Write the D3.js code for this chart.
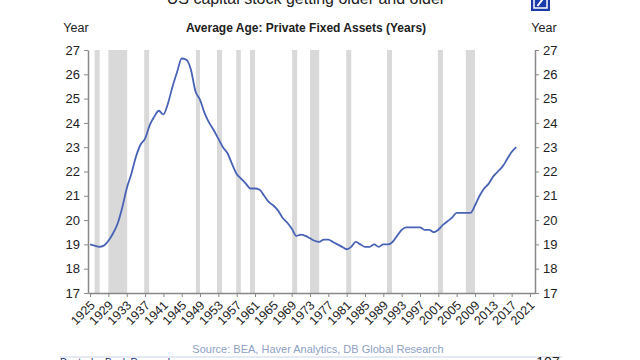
<!DOCTYPE html>
<html><head><meta charset="utf-8">
<script src="https://cdn.jsdelivr.net/npm/d3@7"></script>
<style>body{margin:0;background:#fff}svg{display:block;font-family:Arial,"Liberation Sans",sans-serif}</style>
</head><body><svg id="c" width="640" height="360"></svg>
<script>
const years = d3.range(1925, 2019);
const avgAge = [19.0,18.95,18.9,18.95,19.15,19.45,19.85,20.5,21.3,21.9,
22.6,23.1,23.35,23.9,24.25,24.5,24.35,24.8,25.5,26.1,
26.65,26.6,26.2,25.3,24.95,24.4,24.0,23.7,23.35,23.0,
22.75,22.3,21.9,21.7,21.5,21.3,21.3,21.25,21.0,20.75,
20.6,20.4,20.1,19.9,19.65,19.35,19.4,19.35,19.25,19.15,
19.1,19.2,19.2,19.1,19.0,18.9,18.8,18.9,19.1,19.0,
18.9,18.9,19.0,18.9,19.0,19.0,19.1,19.35,19.6,19.7,
19.7,19.7,19.7,19.6,19.6,19.5,19.6,19.8,19.95,20.1,
20.3,20.3,20.3,20.3,20.6,21.0,21.3,21.5,21.8,22.0,
22.2,22.5,22.8,23.0];
const recessionStart = [1926.0,1929.0,1936.8,1948.1,1952.7,1956.9,1959.9,1969.1,1973.0,1980.9,1989.8,2000.9,2007.0];
const recessionEnd   = [1927.1,1933.1,1937.9,1949.0,1953.8,1957.9,1961.0,1970.2,1975.0,1982.0,1990.9,2002.0,2009.0];
const xTicks = d3.range(1925, 2022, 4);
const yTicks = [17,18,19,20,21,22,23,24,25,26,27];

const svg = d3.select("#c");
const x = d3.scaleLinear().domain([1924.55, 2022.1]).range([88, 535]);
const y = d3.scaleLinear().domain([17, 27]).range([293, 50]);

// top title (clipped at top edge as in the reference)
svg.append("text").attr("x", 306).attr("y", 4).attr("text-anchor", "middle")
  .attr("font-size", 16).attr("fill", "#222").text("US capital stock getting older and older");
// logo
svg.append("rect").attr("x", 531).attr("y", -8).attr("width", 19).attr("height", 19).attr("fill", "#1c3aa8");
svg.append("rect").attr("x", 534).attr("y", -5).attr("width", 13).attr("height", 13).attr("fill", "none").attr("stroke", "#fff").attr("stroke-width", 1.5);
svg.append("line").attr("x1", 537.5).attr("y1", 6).attr("x2", 543.5).attr("y2", -2).attr("stroke", "#fff").attr("stroke-width", 2);

// recession bars
svg.append("g").selectAll("rect").data(recessionStart).join("rect")
  .attr("x", (d) => x(d)).attr("width", (d, i) => x(recessionEnd[i]) - x(d))
  .attr("y", y(27)).attr("height", y(17) - y(27)).attr("fill", "#d9d9d9");

// line
const line = d3.line().x((d, i) => x(years[i])).y((d) => y(d)).curve(d3.curveMonotoneX);
svg.append("path").datum(avgAge).attr("d", line).attr("fill", "none")
  .attr("stroke", "#4862b6").attr("stroke-width", 1.8);

// axes
const axCol = "#888";
const gl = svg.append("g").attr("transform", "translate(88,0)")
  .call(d3.axisLeft(y).tickValues(yTicks).tickSize(4).tickPadding(4).tickSizeOuter(0));
const gr = svg.append("g").attr("transform", "translate(535,0)")
  .call(d3.axisRight(y).tickValues(yTicks).tickSize(4).tickPadding(4).tickSizeOuter(0));
const gb = svg.append("g").attr("transform", "translate(0,293)")
  .call(d3.axisBottom(x).tickValues(xTicks).tickFormat(d3.format("d")).tickSize(4).tickSizeOuter(0));
[gl, gr, gb].forEach((g) => {
  g.select(".domain").attr("stroke", axCol).attr("stroke-width", 1.5);
  g.selectAll(".tick line").attr("stroke", axCol);
  g.selectAll("text").attr("fill", "#222").attr("font-family", "Arial,'Liberation Sans',sans-serif");
});
gl.selectAll("text").attr("font-size", 13);
gr.selectAll("text").attr("font-size", 13);
gb.selectAll("text").attr("font-size", 12.5).attr("text-anchor", "end")
  .attr("dx", "0").attr("dy", "0").attr("y", 0).attr("transform", "translate(5,13) rotate(-45)");

// headers
svg.append("text").attr("x", 76).attr("y", 32).attr("text-anchor", "middle").attr("font-size", 12.5).attr("fill", "#222").text("Year");
svg.append("text").attr("x", 544).attr("y", 32).attr("text-anchor", "middle").attr("font-size", 12.5).attr("fill", "#222").text("Year");
svg.append("text").attr("x", 306).attr("y", 32).attr("text-anchor", "middle").attr("font-size", 12).attr("font-weight", "bold").attr("fill", "#222").text("Average Age: Private Fixed Assets (Years)");

// footer
svg.append("text").attr("x", 318).attr("y", 353).attr("text-anchor", "middle").attr("font-size", 11).attr("fill", "#8ea1c6").text("Source: BEA, Haver Analytics, DB Global Research");
svg.append("line").attr("x1", 60).attr("x2", 562).attr("y1", 357).attr("y2", 357).attr("stroke", "#c9d3e6").attr("stroke-width", 1);
svg.append("text").attr("x", 548).attr("y", 367).attr("text-anchor", "middle").attr("font-size", 14).attr("fill", "#222").text("107");
svg.append("text").attr("x", 60).attr("y", 366).attr("font-size", 10).attr("fill", "#1a2a7a").text("Deutsche Bank Research");
</script></body></html>
